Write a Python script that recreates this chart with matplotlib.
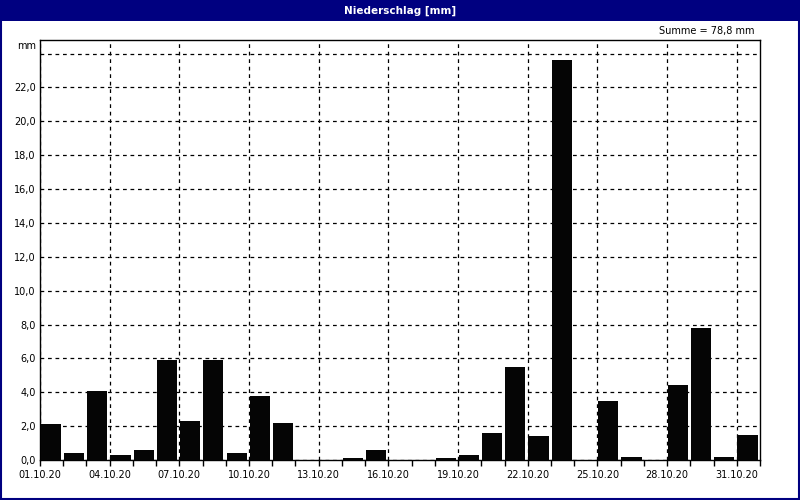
import numpy as np
import matplotlib as mpl
mpl.use('Agg')
import matplotlib.pyplot as plt
from matplotlib.patches import Rectangle

# ==== Data ====
days = [f'{d:02d}.10.20' for d in range(1, 32)]
rain_mm = [2.1, 0.4, 4.1, 0.3, 0.6, 5.9, 2.3, 5.9, 0.4, 3.8,
           2.2, 0.0, 0.0, 0.1, 0.6, 0.0, 0.0, 0.1, 0.3, 1.6,
           5.5, 1.4, 23.6, 0.0, 3.5, 0.2, 0.0, 4.4, 7.8, 0.2,
           1.5]
y_ticks = [0, 2, 4, 6, 8, 10, 12, 14, 16, 18, 20, 22, 24]
title = 'Niederschlag [mm]'
total_label = 'Summe = 78,8 mm'

# ==== Style ====
NAVY = '#000080'
mpl.rcParams.update({
    'font.family': 'DejaVu Sans',
    'font.size': 7,
    'axes.linewidth': 1.0,
})

fig = plt.figure(figsize=(8, 5), dpi=100)
fig.patch.set_facecolor('white')

# title bar + window frame
fig.patches.append(Rectangle((0, 0.958), 1, 0.042, transform=fig.transFigure,
                             facecolor=NAVY, edgecolor='none', zorder=0))
fig.patches.append(Rectangle((0.001, 0.0015), 0.998, 0.997, transform=fig.transFigure,
                             facecolor='none', edgecolor=NAVY, linewidth=1.5, zorder=1))
fig.text(0.5, 0.979, title, color='white', fontsize=7.5, fontweight='bold',
         ha='center', va='center')
fig.text(0.943, 0.938, total_label, fontsize=7, ha='right', va='center')

ax = fig.add_axes([0.05, 0.08, 0.90, 0.84])

x = np.arange(len(rain_mm))
ax.bar(x + 0.03, rain_mm, width=0.87, align='edge', color='#050505', zorder=3)

ax.set_xlim(0, len(rain_mm))
ax.set_ylim(0, 24.8)

# y axis
ax.set_yticks(y_ticks)
ax.set_yticklabels([f'{v:.1f}'.replace('.', ',') if v < 24 else '' for v in y_ticks])
ax.tick_params(axis='y', length=0, pad=3, labelsize=7)
ax.text(-0.005, 0.985, 'mm', transform=ax.transAxes, ha='right', va='center', fontsize=7)

# x axis: label every 3 days, tick every day
major = x[::3]
ax.set_xticks(major)
ax.set_xticklabels([days[i] for i in major])
ax.set_xticks(np.arange(len(rain_mm) + 1), minor=True)
ax.tick_params(axis='x', which='both', direction='out', length=4, width=1, labelsize=7, pad=3)

ax.grid(True, which='major', color='black', linestyle=(0, (3, 3)), linewidth=0.9, zorder=1)
ax.set_axisbelow(True)

plt.savefig('out.png', dpi=100)
